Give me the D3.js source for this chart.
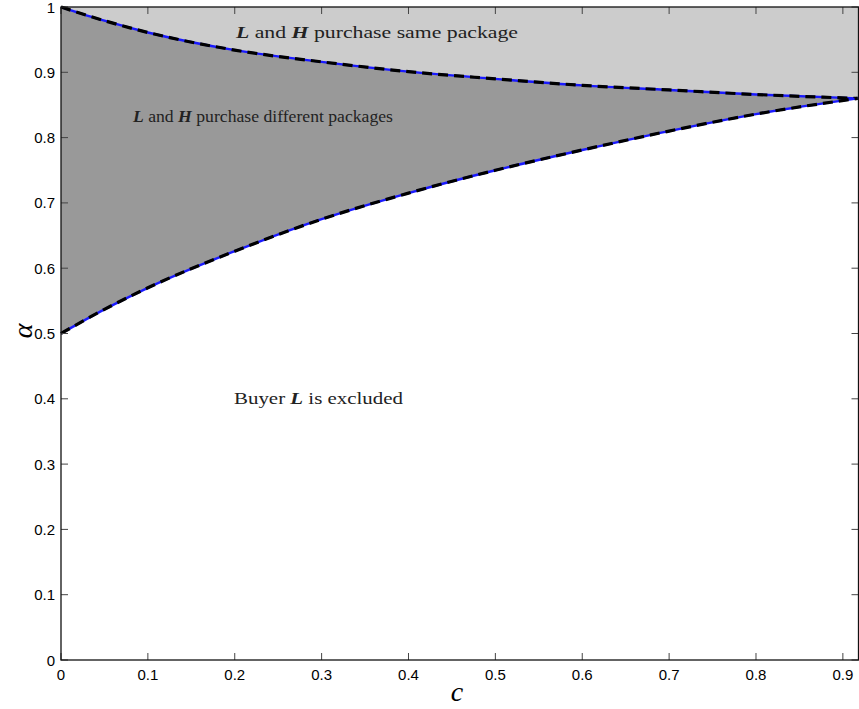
<!DOCTYPE html>
<html><head><meta charset="utf-8">
<script src="https://cdn.jsdelivr.net/npm/d3@7/dist/d3.min.js"></script>
<style>body{margin:0;background:#fff}svg{display:block}</style>
</head><body>
<svg id="chart" width="859" height="709"></svg>
<script>
// Data
const cValues = [0, 0.05, 0.1, 0.2, 0.3, 0.4, 0.5, 0.6, 0.7, 0.8, 0.917];
const upperAlpha = [1.0, 0.979, 0.961, 0.934, 0.916, 0.901, 0.890, 0.880, 0.873, 0.866, 0.860];
const lowerAlpha = [0.5, 0.537, 0.570, 0.626, 0.675, 0.715, 0.750, 0.781, 0.810, 0.836, 0.860];
const xTicks = [0, 0.1, 0.2, 0.3, 0.4, 0.5, 0.6, 0.7, 0.8, 0.9];
const yTicks = [0, 0.1, 0.2, 0.3, 0.4, 0.5, 0.6, 0.7, 0.8, 0.9, 1];
const xTickLabels = ["0","0.1","0.2","0.3","0.4","0.5","0.6","0.7","0.8","0.9"];
const yTickLabels = ["0","0.1","0.2","0.3","0.4","0.5","0.6","0.7","0.8","0.9","1"];
const xDomain = [0, 0.918];
const yDomain = [0, 1];

const svg = d3.select("#chart");
const L = 61, R = 858.5, T = 7, B = 660;
const x = d3.scaleLinear().domain(xDomain).range([L, R]);
const y = d3.scaleLinear().domain(yDomain).range([B, T]);

const pts = cValues.map((c, i) => ({c, u: upperAlpha[i], l: lowerAlpha[i]}));
const curve = d3.curveMonotoneX;

// light gray region above upper curve
const ext = pts.concat([{c: xDomain[1], u: pts[pts.length-1].u, l: pts[pts.length-1].l}]);
svg.append("path")
  .attr("d", d3.area().x(d => x(d.c)).y0(d => y(1)).y1(d => y(d.u)).curve(curve)(ext))
  .attr("fill", "#cccccc");
// dark gray region between curves
svg.append("path")
  .attr("d", d3.area().x(d => x(d.c)).y0(d => y(d.l)).y1(d => y(d.u)).curve(curve)(pts))
  .attr("fill", "#999999");

const lineU = d3.line().x(d => x(d.c)).y(d => y(d.u)).curve(curve);
const lineL = d3.line().x(d => x(d.c)).y(d => y(d.l)).curve(curve);
[lineU, lineL].forEach(ln => {
  svg.append("path").attr("d", ln(pts)).attr("fill", "none")
    .attr("stroke", "#1a1aff").attr("stroke-width", 2.4);
  svg.append("path").attr("d", ln(pts)).attr("fill", "none")
    .attr("stroke", "#000").attr("stroke-width", 3.2)
    .attr("stroke-dasharray", "10,6");
});

// axes
const tickLen = 7;
const g = svg.append("g").attr("font-family", "'Liberation Sans', Arial, sans-serif").attr("font-size", 15);
xTicks.forEach((t, i) => {
  const px = x(t);
  g.append("line").attr("x1", px).attr("x2", px).attr("y1", B).attr("y2", B - tickLen).attr("stroke", "#444").attr("stroke-width", 1);
  g.append("line").attr("x1", px).attr("x2", px).attr("y1", T).attr("y2", T + tickLen).attr("stroke", "#444").attr("stroke-width", 1);
  g.append("text").attr("x", px).attr("y", 680).attr("text-anchor", "middle").attr("fill", "#000").text(xTickLabels[i]);
});
yTicks.forEach((t, i) => {
  const py = y(t);
  g.append("line").attr("x1", L).attr("x2", L + tickLen).attr("y1", py).attr("y2", py).attr("stroke", "#444").attr("stroke-width", 1);
  g.append("line").attr("x1", R).attr("x2", R - tickLen).attr("y1", py).attr("y2", py).attr("stroke", "#444").attr("stroke-width", 1);
  g.append("text").attr("x", 55).attr("y", py + 5.5).attr("text-anchor", "end").attr("fill", "#000").text(yTickLabels[i]);
});
// frame
svg.append("rect").attr("x", L).attr("y", T).attr("width", R - L).attr("height", B - T)
  .attr("fill", "none").attr("stroke", "#111").attr("stroke-width", 1.3);

// axis labels
svg.append("text").attr("x", 457).attr("y", 701).attr("text-anchor", "middle")
  .attr("font-family", "'Liberation Serif', serif").attr("font-style", "italic").attr("font-size", 28).text("c");
svg.append("text").attr("transform", "translate(32,331) rotate(-90)").attr("text-anchor", "middle")
  .attr("font-family", "'Liberation Serif', serif").attr("font-style", "italic").attr("font-size", 28).text("α");

// annotations
function annot(xp, yp, width, parts) {
  const t = svg.append("text").attr("x", xp).attr("y", yp)
    .attr("font-family", "'Liberation Serif', 'Times New Roman', serif").attr("font-size", 17).attr("fill", "#222")
    .attr("textLength", width).attr("lengthAdjust", "spacingAndGlyphs");
  parts.forEach(p => {
    const s = t.append("tspan").text(p[0]);
    if (p[1]) s.attr("font-weight", "bold").attr("font-style", "italic");
  });
}
annot(236, 38, 282, [["L", 1], [" and ", 0], ["H", 1], [" purchase same package", 0]]);
annot(133, 122, 260, [["L", 1], [" and ", 0], ["H", 1], [" purchase different packages", 0]]);
annot(234, 404, 169, [["Buyer ", 0], ["L", 1], [" is excluded", 0]]);
</script>
</body></html>
